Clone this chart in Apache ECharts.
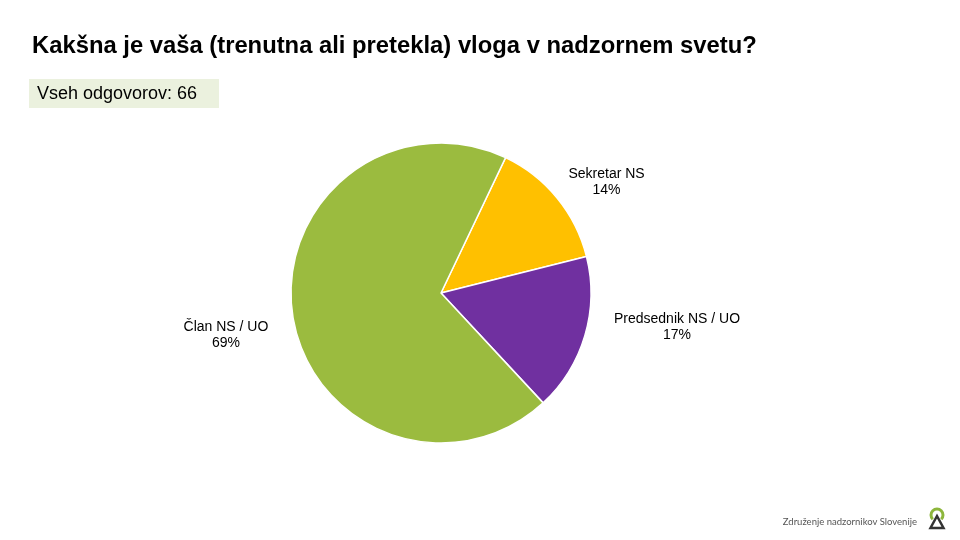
<!DOCTYPE html>
<html><head><meta charset="utf-8">
<script src="https://cdn.jsdelivr.net/npm/echarts@6/dist/echarts.min.js"></script>
<style>html,body{margin:0;padding:0;background:#fff}#c{width:960px;height:540px}</style>
</head><body><div id="c"></div>
<script>
const categories = ['Sekretar NS', 'Predsednik NS / UO', 'Član NS / UO'];
const values = [14, 17, 69];
const colors = ['#FFC000', '#7030A0', '#9BBB3F'];
const titleText = 'Kakšna je vaša (trenutna ali pretekla) vloga v nadzornem svetu?';
const totalText = 'Vseh odgovorov: 66';
const footerText = 'Združenje nadzornikov Slovenije';

const chart = echarts.init(document.getElementById('c'), null, {renderer: 'canvas'});
const labelShift = [[-1, -3], [38, -14], [-12, 16]];
chart.setOption({
  animation: false,
  backgroundColor: '#fff',
  title: {
    text: titleText, left: 27, top: 29,
    textStyle: {fontFamily: 'Liberation Sans, Arial', fontSize: 23.8, fontWeight: 'bold', color: '#000'}
  },
  graphic: [
    {type: 'rect', shape: {x: 29, y: 79, width: 190, height: 29}, style: {fill: '#EBF1DE'}},
    {type: 'text', x: 37, y: 94, style: {text: totalText, fontFamily: 'Liberation Sans, Arial', fontSize: 18, fill: '#000', verticalAlign: 'middle'}},
    {type: 'text', x: 917, y: 522, style: {text: footerText, fontFamily: 'Lato, sans-serif', fontSize: 9.5, fill: '#555', align: 'right', verticalAlign: 'middle'}},
    {type: 'arc', shape: {cx: 937, cy: 515, r: 6, startAngle: Math.PI * 0.75, endAngle: Math.PI * 0.25 + Math.PI * 2, clockwise: true}, style: {stroke: '#8DB63C', lineWidth: 3, fill: null}},
    {type: 'polygon', shape: {points: [[937, 516], [930.5, 528], [943.5, 528]]}, style: {stroke: '#333', lineWidth: 2.5, fill: '#fff'}}
  ],
  series: [{
    type: 'pie',
    center: [441, 293],
    radius: 150,
    startAngle: 64.5,
    clockwise: true,
    data: categories.map((c, i) => ({name: c, value: values[i], itemStyle: {color: colors[i]}})),
    itemStyle: {borderColor: '#fff', borderWidth: 1.5},
    label: {
      show: true, position: 'outside', formatter: '{b}\n{d}%',
      fontFamily: 'Liberation Sans, Arial', fontSize: 14, color: '#000', lineHeight: 16
    },
    labelLine: {show: false, length: 20, length2: 30},
    labelLayout: function (p) {
      const s = labelShift[p.dataIndex];
      return {dx: s[0], dy: s[1], align: 'center'};
    },
    emphasis: {disabled: true}
  }]
});
</script></body></html>
